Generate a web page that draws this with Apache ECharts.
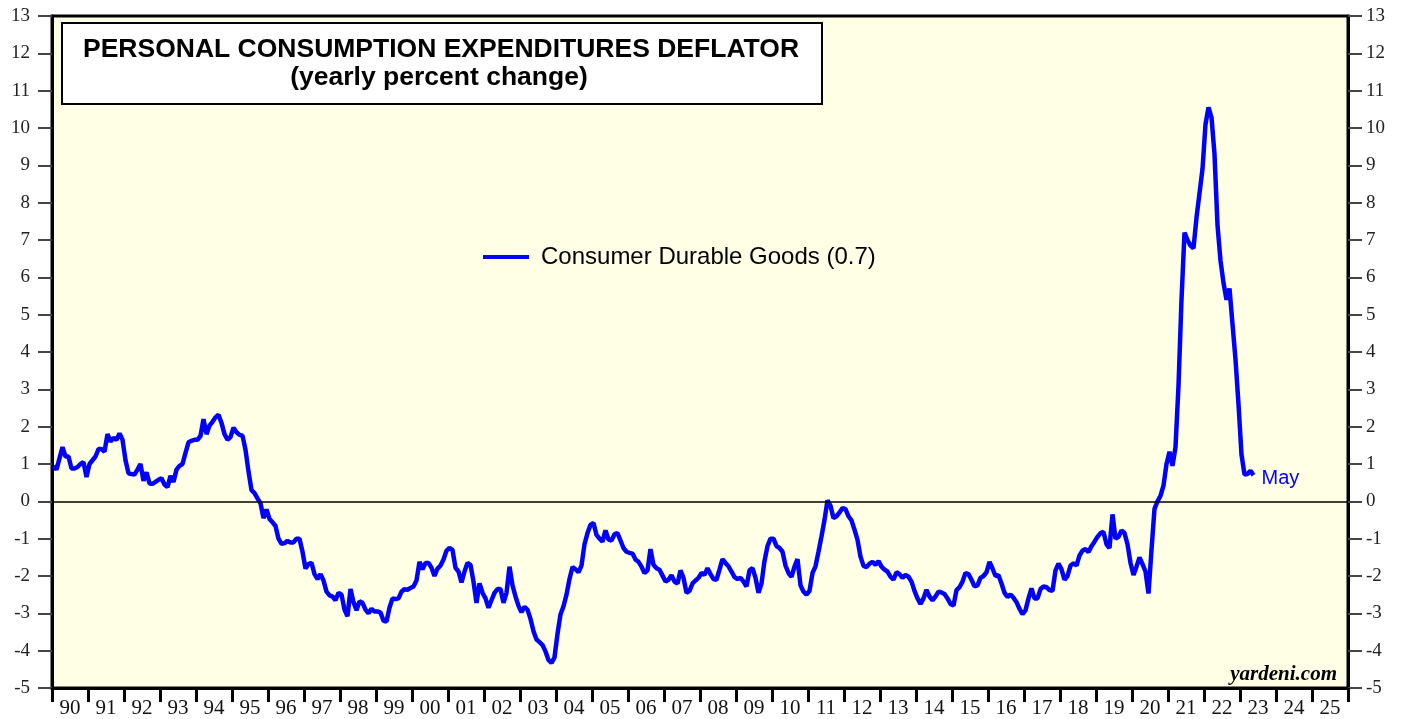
<!DOCTYPE html>
<html>
<head>
<meta charset="utf-8">
<title>PCE Deflator - Consumer Durable Goods</title>
<script src="https://cdn.jsdelivr.net/npm/echarts@6/dist/echarts.min.js"></script>
<style>
  html, body { margin: 0; padding: 0; background: #fff; }
  #chart { width: 1407px; height: 719px; }
</style>
</head>
<body>
<div id="chart"></div>
<script>
// yearly percent change, monthly from Jan 1990 to May 2023
const yearLabels = ['90', '91', '92', '93', '94', '95', '96', '97', '98', '99',
  '00', '01', '02', '03', '04', '05', '06', '07', '08', '09',
  '10', '11', '12', '13', '14', '15', '16', '17', '18', '19',
  '20', '21', '22', '23', '24', '25'];

const durables1990s = [
  0.95, 0.85, 1.15, 1.45, 1.2, 1.2, 0.88, 0.88, 0.92, 1.0, 1.05, 0.65,
  1.0, 1.1, 1.2, 1.4, 1.4, 1.33, 1.8, 1.6, 1.7, 1.65, 1.82, 1.65,
  1.1, 0.75, 0.73, 0.72, 0.85, 1.0, 0.55, 0.78, 0.48, 0.47, 0.52, 0.58,
  0.62, 0.45, 0.38, 0.68, 0.52, 0.85, 0.95, 1.0, 1.3, 1.58, 1.62, 1.65,
  1.65, 1.75, 2.2, 1.8, 2.03, 2.13, 2.25, 2.32, 2.1, 1.8, 1.65, 1.72,
  1.97, 1.85, 1.78, 1.76, 1.38, 0.8, 0.3, 0.22, 0.08, -0.05, -0.45, -0.22,
  -0.47, -0.56, -0.66, -1.0, -1.14, -1.12, -1.06, -1.1, -1.1, -1.0, -1.0, -1.35,
  -1.8, -1.68, -1.65, -1.95, -2.08, -1.95, -2.12, -2.42, -2.52, -2.55, -2.65, -2.45,
  -2.5, -2.9, -3.08, -2.35, -2.7, -2.92, -2.68, -2.72, -2.9, -3.0, -2.88, -2.95,
  -2.95, -2.98, -3.2, -3.22, -2.85, -2.6, -2.62, -2.6, -2.42, -2.35, -2.37, -2.32
];

const durables2000s = [
  -2.28, -2.12, -1.62, -1.82, -1.65, -1.65, -1.78, -2.0, -1.8, -1.72, -1.56, -1.32,
  -1.25, -1.3, -1.78, -1.88, -2.17, -1.88, -1.65, -1.7, -2.15, -2.72, -2.2, -2.45,
  -2.6, -2.85, -2.65, -2.45, -2.35, -2.35, -2.72, -2.45, -1.75, -2.25, -2.55, -2.8,
  -2.97, -2.83, -2.9, -3.15, -3.48, -3.7, -3.77, -3.85, -4.02, -4.25, -4.33, -4.18,
  -3.55, -3.03, -2.81, -2.5, -2.08, -1.76, -1.82, -1.9, -1.72, -1.15, -0.85, -0.63,
  -0.58, -0.9, -1.0, -1.08, -0.78, -1.02, -1.05, -0.88, -0.85, -1.05, -1.25, -1.35,
  -1.38, -1.4, -1.56, -1.62, -1.75, -1.92, -1.85, -1.28, -1.7, -1.79, -1.83, -1.99,
  -2.15, -2.1, -1.98, -2.15, -2.2, -1.85, -2.05, -2.45, -2.4, -2.2, -2.12, -2.05,
  -1.92, -1.97, -1.79, -1.95, -2.08, -2.1, -1.83, -1.55, -1.65, -1.74, -1.88, -2.03,
  -2.08, -2.05, -2.15, -2.28, -1.85, -1.79, -2.05, -2.45, -2.2, -1.6, -1.2, -1.0
];

const durables2010s = [
  -1.0, -1.2, -1.25, -1.35, -1.72, -1.92, -2.02, -1.75, -1.55, -2.25, -2.42, -2.5,
  -2.4, -1.92, -1.74, -1.35, -0.94, -0.5, 0.03, -0.12, -0.45, -0.4, -0.3, -0.18,
  -0.21, -0.4, -0.51, -0.76, -1.03, -1.48, -1.73, -1.76, -1.67, -1.62, -1.7, -1.6,
  -1.75, -1.83, -1.88, -2.02, -2.1, -1.9, -1.95, -2.05, -1.97, -2.02, -2.15, -2.4,
  -2.6, -2.75, -2.6, -2.37, -2.55, -2.65, -2.55, -2.42, -2.44, -2.48, -2.6, -2.75,
  -2.79, -2.38, -2.3, -2.15, -1.92, -1.95, -2.1, -2.28, -2.25, -2.05, -2.0, -1.9,
  -1.62, -1.8, -2.0, -1.98, -2.2, -2.45, -2.56, -2.5, -2.58, -2.7, -2.88, -3.02,
  -2.92, -2.6, -2.33, -2.6, -2.6, -2.35, -2.28, -2.3, -2.38, -2.4, -1.85, -1.67,
  -1.82, -2.1, -2.0, -1.72, -1.66, -1.72, -1.45, -1.32, -1.28, -1.36, -1.2, -1.08,
  -0.95, -0.85, -0.82, -1.15, -1.25, -0.35, -1.0, -0.95, -0.78, -0.85, -1.15, -1.65
];

const durables2020s = [
  -1.97, -1.75, -1.5, -1.68, -1.88, -2.47, -1.3, -0.2, 0.0, 0.15, 0.42, 1.0,
  1.33, 0.95, 1.45, 3.1, 5.4, 7.2, 7.0, 6.85, 6.78, 7.6, 8.25, 8.9,
  10.1, 10.55, 10.28, 9.3, 7.4, 6.45, 5.85, 5.4, 5.7, 4.75, 3.8, 2.6,
  1.25, 0.72, 0.73, 0.82, 0.7
];

const seriesName = 'Consumer Durable Goods (0.7)';

const months = [];
for (let y = 1990; y <= 2025; y++) {
  for (let m = 1; m <= 12; m++) {
    months.push(y + '-' + (m < 10 ? '0' + m : m));
  }
}
const durables = durables1990s.concat(durables2000s, durables2010s, durables2020s);

const serif = 'Liberation Serif';
const sans = 'Liberation Sans';

const yAxisBase = {
  type: 'value',
  min: -5,
  max: 13,
  interval: 1,
  axisLine: { show: true, onZero: false, lineStyle: { color: '#000', width: 3 } },
  axisTick: { show: true, length: 14, lineStyle: { color: '#444', width: 2 } },
  axisLabel: { color: '#222', fontFamily: serif, fontSize: 19 },
  splitLine: { show: false }
};

const chart = echarts.init(document.getElementById('chart'));
chart.setOption({
  animation: false,
  grid: {
    left: 52, right: 59, top: 16, bottom: 30,
    show: true,
    backgroundColor: '#FFFFE5',
    borderColor: '#000',
    borderWidth: 3
  },
  legend: {
    data: [seriesName],
    left: 483,
    top: 245,
    padding: 0,
    icon: 'rect',
    itemWidth: 46,
    itemHeight: 4,
    textStyle: { fontFamily: sans, fontSize: 24, color: '#000', padding: [0, 0, 0, 7] }
  },
  xAxis: [
    {
      type: 'category',
      data: months,
      position: 'top',
      boundaryGap: true,
      show: false
    },
    {
      type: 'category',
      data: yearLabels,
      position: 'bottom',
      boundaryGap: true,
      axisLine: { show: true, onZero: false, lineStyle: { color: '#000', width: 3 } },
      axisTick: { show: true, interval: 0, length: 14, lineStyle: { color: '#000', width: 3 } },
      axisLabel: { interval: 0, margin: 10, color: '#111', fontFamily: serif, fontSize: 21 },
      splitLine: { show: false }
    }
  ],
  yAxis: [
    Object.assign({}, yAxisBase, {
      position: 'left',
      axisLabel: Object.assign({}, yAxisBase.axisLabel, { margin: 22 })
    }),
    Object.assign({}, yAxisBase, {
      position: 'right',
      axisLabel: Object.assign({}, yAxisBase.axisLabel, { margin: 18 })
    })
  ],
  series: [
    {
      name: seriesName,
      type: 'line',
      xAxisIndex: 0,
      yAxisIndex: 0,
      data: durables,
      showSymbol: false,
      symbol: 'none',
      lineStyle: { color: '#0000FF', width: 4.5 },
      itemStyle: { color: '#0000FF' },
      endLabel: {
        show: true,
        formatter: 'May',
        color: '#0000FF',
        fontFamily: sans,
        fontSize: 20,
        distance: 8,
        offset: [0, 3]
      },
      markLine: {
        silent: true,
        symbol: 'none',
        label: { show: false },
        lineStyle: { color: '#000', width: 1.5, type: 'solid' },
        data: [{ yAxis: 0 }]
      },
      z: 3
    }
  ],
  graphic: [
    {
      type: 'rect',
      left: 61,
      top: 22,
      shape: { width: 760, height: 81 },
      style: { fill: '#fff', stroke: '#000', lineWidth: 2 },
      z: 10
    },
    {
      type: 'text',
      x: 441,
      y: 50,
      style: {
        text: 'PERSONAL CONSUMPTION EXPENDITURES DEFLATOR',
        font: 'bold 26.5px "Liberation Sans"',
        fill: '#000',
        align: 'center',
        verticalAlign: 'middle'
      },
      z: 11
    },
    {
      type: 'text',
      x: 439,
      y: 78,
      style: {
        text: '(yearly percent change)',
        font: 'bold 26.5px "Liberation Sans"',
        fill: '#000',
        align: 'center',
        verticalAlign: 'middle'
      },
      z: 11
    },
    {
      type: 'text',
      x: 1337,
      y: 675,
      style: {
        text: 'yardeni.com',
        font: 'italic bold 21px "Liberation Serif"',
        fill: '#000',
        align: 'right',
        verticalAlign: 'middle'
      },
      z: 11
    }
  ]
});
</script>
</body>
</html>
